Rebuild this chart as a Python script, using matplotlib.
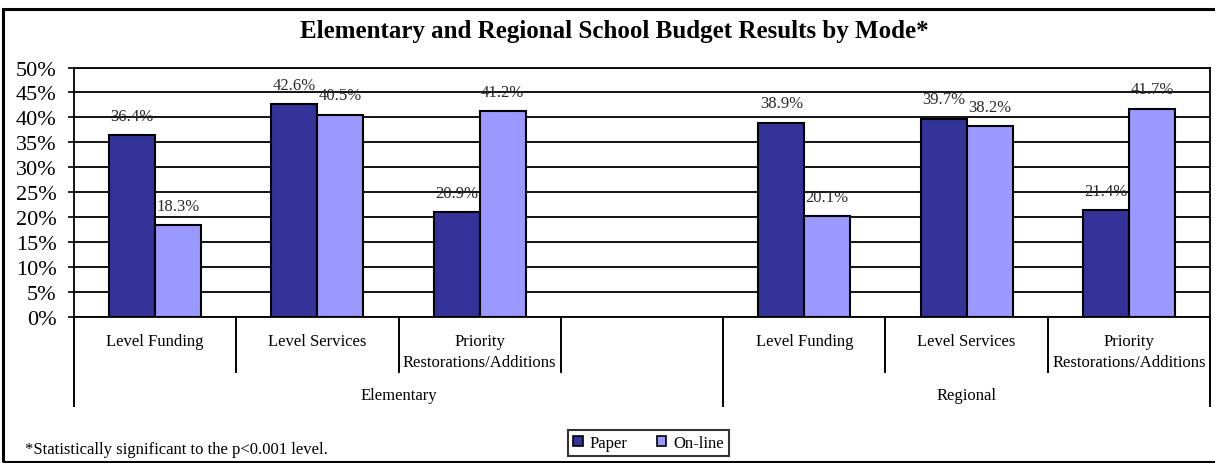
import matplotlib

matplotlib.use("Agg")

import matplotlib.pyplot as plt
import matplotlib.transforms as mtransforms
from matplotlib.patches import Patch, Rectangle

plt.rcParams["font.family"] = ["Liberation Serif", "DejaVu Serif"]

# Budget choice shares (percent of ballots) by voting mode
CATEGORIES = ["Level Funding", "Level Services", "Priority\nRestorations/Additions"]
GROUPS = ["Elementary", "Regional"]
PAPER_ELEMENTARY = [36.4, 42.6, 20.9]
ONLINE_ELEMENTARY = [18.3, 40.5, 41.2]
PAPER_REGIONAL = [38.9, 39.7, 21.4]
ONLINE_REGIONAL = [20.1, 38.2, 41.7]
Y_TICKS = list(range(0, 51, 5))

PAPER_COLOR = "#333399"
ONLINE_COLOR = "#9999FF"
BAR_W = 0.283

fig = plt.figure(figsize=(12.15, 4.64), dpi=100)
ax = fig.add_axes([0.0609, 0.3157, 0.9350, 0.5366])

# Elementary uses slots 0-3 (slot 3 left empty), Regional uses slots 4-6
group_slots = {"Elementary": [0, 1, 2], "Regional": [4, 5, 6]}
group_spans = {"Elementary": (-0.5, 3.5), "Regional": (3.5, 6.5)}
series = {
    "Elementary": (PAPER_ELEMENTARY, ONLINE_ELEMENTARY),
    "Regional": (PAPER_REGIONAL, ONLINE_REGIONAL),
}

for group in GROUPS:
    slots = group_slots[group]
    paper, online = series[group]
    px = [s - BAR_W / 2 for s in slots]
    ox = [s + BAR_W / 2 for s in slots]
    ax.bar(px, paper, width=BAR_W, color=PAPER_COLOR, edgecolor="black",
           linewidth=1.5, zorder=3)
    ax.bar(ox, online, width=BAR_W, color=ONLINE_COLOR, edgecolor="black",
           linewidth=1.5, zorder=3)
    for x, v in list(zip(px, paper)) + list(zip(ox, online)):
        ax.text(x, v + 3.9, f"{v:.1f}%", ha="center", va="center",
                fontsize=12, color="#2a2a2a", zorder=4)

ax.set_xlim(-0.5, 6.5)
ax.set_ylim(0, 50)
ax.set_yticks(Y_TICKS)
ax.set_yticklabels([f"{t}%" for t in Y_TICKS], fontsize=16)
ax.set_xticks([])
ax.tick_params(axis="y", direction="out", length=4.5, width=1.2, pad=8)
ax.grid(axis="y", color="black", linewidth=1.3, zorder=1)
ax.set_axisbelow(True)
for side in ax.spines.values():
    side.set_linewidth(1.3)
    side.set_color("black")

# Two-level category axis drawn below the plot area
trans = mtransforms.blended_transform_factory(ax.transData, ax.transAxes)
for group in GROUPS:
    lo, hi = group_spans[group]
    for s, name in zip(group_slots[group], CATEGORIES):
        ax.text(s, -0.066, name, transform=trans, ha="center", va="top",
                fontsize=12, linespacing=1.45)
    for s in group_slots[group][:-1]:
        if s + 0.5 < hi:
            ax.plot([s + 0.5, s + 0.5], [0, -0.223], transform=trans,
                    color="black", linewidth=1.4, clip_on=False)
    ax.text((lo + hi) / 2, -0.315, group, transform=trans, ha="center",
            va="center", fontsize=12)
for edge in [-0.5, 2.5, 3.5, 6.5]:
    bottom = -0.223 if edge == 2.5 else -0.36
    ax.plot([edge, edge], [0, bottom], transform=trans, color="black",
            linewidth=1.4, clip_on=False)

fig.text(0.506, 0.933, "Elementary and Regional School Budget Results by Mode*",
         ha="center", va="center", fontsize=18, fontweight="bold")
fig.text(0.0206, 0.030, "*Statistically significant to the p<0.001 level.",
         ha="left", va="center", fontsize=12)

handles = [
    Patch(facecolor=PAPER_COLOR, edgecolor="black", linewidth=1.2, label="Paper"),
    Patch(facecolor=ONLINE_COLOR, edgecolor="black", linewidth=1.2, label="On-line"),
]
leg = fig.legend(handles=handles, loc="center", bbox_to_anchor=(0.5337, 0.0431),
                 ncol=2, fontsize=12, frameon=True, fancybox=False,
                 handlelength=0.55, handleheight=0.55, handletextpad=0.4,
                 columnspacing=1.8, borderpad=0.3, borderaxespad=0)
leg.get_frame().set_edgecolor("black")
leg.get_frame().set_linewidth(1.5)

# Chart border (runs off the right edge)
fig.add_artist(Rectangle((0.0025, 0.003), 1.2, 0.976, transform=fig.transFigure,
                         fill=False, edgecolor="black", linewidth=2.2))

fig.savefig("out.png", dpi=100)
